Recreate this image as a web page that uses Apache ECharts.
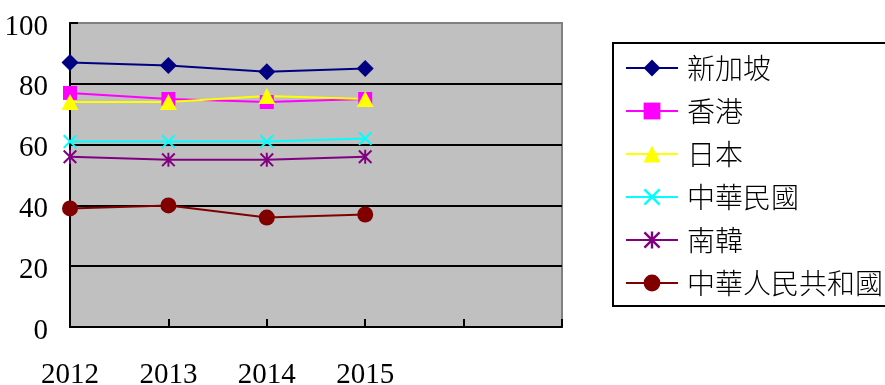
<!DOCTYPE html>
<html>
<head>
<meta charset="utf-8">
<script src="https://cdn.jsdelivr.net/npm/echarts@6/dist/echarts.min.js"></script>
<style>
  html, body { margin: 0; padding: 0; background: #fff; }
  #chart { width: 885px; height: 385px; }
</style>
</head>
<body>
<div id="chart"></div>
<script>
// Years on the x axis; the last two slots are left empty
const categories = ['2012', '2013', '2014', '2015', '', ''];
const yTicks = { min: 0, max: 100, interval: 20 };

const singapore = [87, 86, 84, 85];
const hongKong = [77, 75, 74, 75];
const japan = [74, 74, 76, 75];
const taiwan = [61, 61, 61, 62];
const korea = [56, 55, 55, 56];
const china = [39, 40, 36, 37];

const names = ['新加坡', '香港', '日本', '中華民國', '南韓', '中華人民共和國'];
const seriesValues = [singapore, hongKong, japan, taiwan, korea, china];
const colors = ['#000080', '#FF00FF', '#FFFF00', '#00FFFF', '#800080', '#800000'];

// Marker shapes: diamond, square, triangle, cross, asterisk, dot
const crossPath = 'path://M0,1L1,0L5,4L9,0L10,1L6,5L10,9L9,10L5,6L1,10L0,9L4,5Z';
const starPath = 'path://M0,1L1,0L5,4L9,0L10,1L6,5L10,9L9,10L5,6L1,10L0,9L4,5ZM4.3,0L5.7,0L5.7,10L4.3,10Z';
const symbols = ['diamond', 'rect', 'triangle', crossPath, starPath, 'circle'];
const symbolSizes = [[17, 17], [14, 14], [17, 16], [14, 14], [14, 14], [16, 16]];

const chart = echarts.init(document.getElementById('chart'));

chart.setOption({
  animation: false,
  backgroundColor: '#ffffff',
  grid: {
    left: 70, right: 323, top: 23, bottom: 58,
    outerBoundsMode: 'none',
    show: true,
    backgroundColor: '#C0C0C0',
    borderColor: '#808080',
    borderWidth: 2
  },
  // Legend frame, running off the right edge of the canvas
  graphic: [{
    type: 'rect',
    z: 0,
    silent: true,
    shape: { x: 613, y: 43, width: 320, height: 263 },
    style: { fill: 'none', stroke: '#000', lineWidth: 2 }
  }],
  legend: {
    orient: 'vertical',
    left: 613,
    top: 43,
    padding: [10, 0, 0, 12],
    itemGap: 13,
    itemWidth: 52,
    itemHeight: 21,
    data: names,
    textStyle: {
      fontFamily: 'Noto Sans CJK TC',
      fontWeight: 300,
      fontSize: 28,
      lineHeight: 30,
      width: 150,
      overflow: 'none',
      color: '#000',
      padding: [0, 0, 0, 4]
    }
  },
  xAxis: {
    type: 'category',
    data: categories,
    boundaryGap: false,
    axisLine: { lineStyle: { color: '#000', width: 2 } },
    axisTick: { show: true, inside: true, length: 8, lineStyle: { color: '#000', width: 2 } },
    axisLabel: {
      margin: 34,
      fontFamily: 'Liberation Serif',
      fontSize: 29,
      color: '#000'
    },
    splitLine: { show: false }
  },
  yAxis: {
    type: 'value',
    min: yTicks.min,
    max: yTicks.max,
    interval: yTicks.interval,
    axisLine: { show: true, lineStyle: { color: '#000', width: 2 } },
    axisTick: { show: true, inside: true, length: 8, lineStyle: { color: '#000', width: 2 } },
    axisLabel: {
      margin: 22,
      fontFamily: 'Liberation Serif',
      fontSize: 29,
      color: '#000',
      verticalAlign: 'top',
      lineHeight: 8
    },
    splitLine: {
      show: true,
      showMinLine: false,
      showMaxLine: false,
      lineStyle: { color: '#000', width: 2 }
    }
  },
  series: names.map((name, i) => ({
    name: name,
    type: 'line',
    data: seriesValues[i],
    symbol: symbols[i],
    symbolSize: symbolSizes[i],
    showAllSymbol: true,
    lineStyle: { color: colors[i], width: 2 },
    itemStyle: { color: colors[i] },
    emphasis: { disabled: true }
  }))
});
</script>
</body>
</html>
